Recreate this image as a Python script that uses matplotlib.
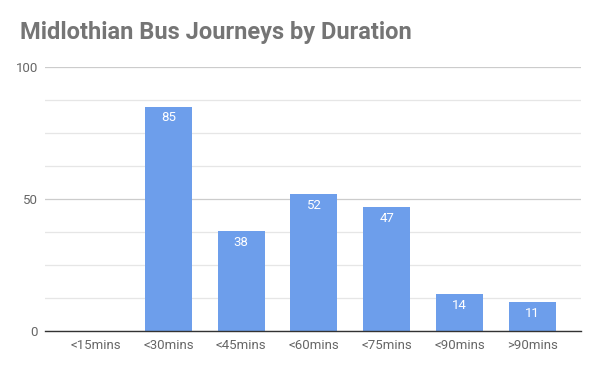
import matplotlib
matplotlib.use("Agg")
import matplotlib.pyplot as plt

categories = ["<15mins", "<30mins", "<45mins", "<60mins", "<75mins", "<90mins", ">90mins"]
values = [0, 85, 38, 52, 47, 14, 11]
yticks = [0, 50, 100]

plt.rcParams['font.family'] = ['Roboto', 'DejaVu Sans']

fig = plt.figure(figsize=(6.0, 3.71), dpi=100)
ax = fig.add_axes([45/600, 1-331/371, 536/600, 264/371])

bar_color = "#6d9eeb"
width = 0.645
x = list(range(len(categories)))
ax.bar(x, values, width=width, color=bar_color, zorder=3)

for xi, v in zip(x, values):
    if v > 0:
        ax.annotate(str(v), (xi, v), xytext=(0, -3.5), textcoords="offset points",
                    ha="center", va="top", color="white", fontsize=9.5, zorder=4)

ax.set_xlim(-0.696, 6.67)
ax.set_ylim(0, 100)
ax.set_yticks(yticks)
ax.set_yticks([12.5, 25, 37.5, 62.5, 75, 87.5], minor=True)
ax.grid(axis="y", which="major", color="#cccccc", linewidth=0.9, zorder=0)
ax.grid(axis="y", which="minor", color="#e6e6e6", linewidth=0.9, zorder=0)
ax.set_xticks(x)
ax.set_xticklabels(categories)
ax.tick_params(axis="both", which="both", length=0, labelsize=9.5, colors="#666666")
ax.tick_params(axis="y", pad=5)
ax.tick_params(axis="x", pad=6)
for s in ["top", "right", "left"]:
    ax.spines[s].set_visible(False)
ax.spines["bottom"].set_color("#333333")
ax.spines["bottom"].set_linewidth(1.0)
ax.spines["bottom"].set_zorder(5)

fig.text(20/600, 1-33/371, "Midlothian Bus Journeys by Duration", fontsize=17,
         fontweight="bold", color="#757575", ha="left", va="center")

fig.savefig("out.png", dpi=100, facecolor="white")
